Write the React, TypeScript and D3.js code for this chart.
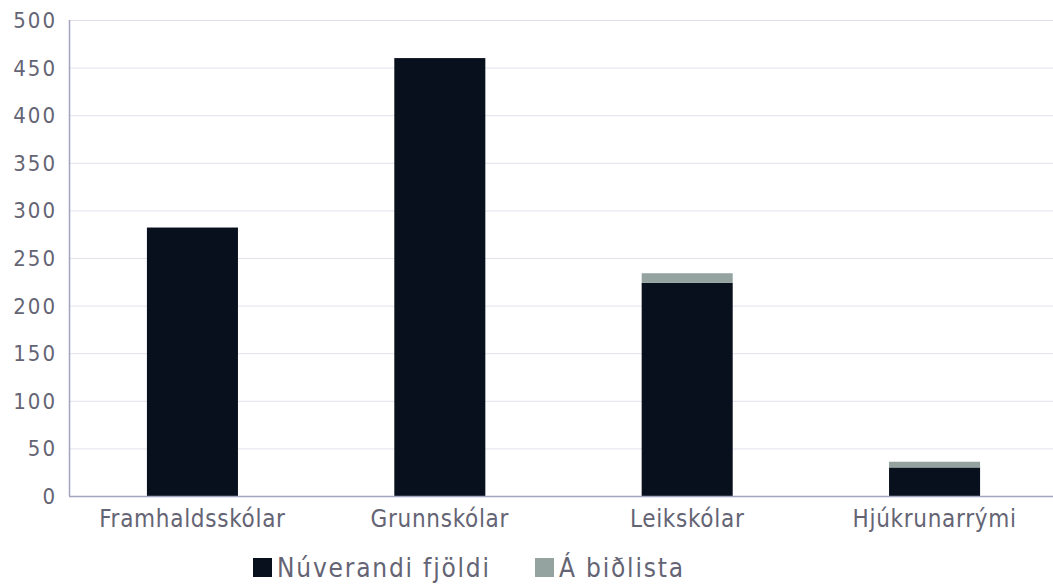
import React from 'react';
import * as d3 from 'd3';

// data
const categories = ['Framhaldsskólar', 'Grunnskólar', 'Leikskólar', 'Hjúkrunarrými'];
const current = [282, 460, 224, 30];
const waiting = [0, 0, 10, 6];
const seriesNames = ['Núverandi fjöldi', 'Á biðlista'];
const yTicks = [0, 50, 100, 150, 200, 250, 300, 350, 400, 450, 500];

const colors = ['#09101d', '#94a39f'];

export default function App() {
  const width = 1053;
  const height = 587;
  const margin = {top: 20, right: 0, bottom: 91, left: 69};
  const innerW = width - margin.left - margin.right;
  const innerH = height - margin.top - margin.bottom;

  const x = d3.scaleBand<string>()
    .domain(categories)
    .range([0, 989])
    .paddingInner(0.632)
    .paddingOuter(0.315);

  const y = d3.scaleLinear().domain([0, 500]).range([innerH, 0]);

  const rows = categories.map((c, i) => ({cat: c, current: current[i], waiting: waiting[i]}));
  const stacked = d3.stack<any>().keys(['current', 'waiting'])(rows);

  const font = '"DejaVu Sans Condensed", "DejaVu Sans", sans-serif';
  const textColor = '#646474';

  return (
    <svg width={width} height={height} style={{position: 'absolute', left: 0, top: 0}}>
      <g transform={`translate(${margin.left},${margin.top})`}>
        {yTicks.map(t => (
          <g key={t}>
            {t > 0 && <line x1={0} x2={innerW} y1={y(t) + 0.5} y2={y(t) + 0.5} stroke="#e1e1ee" />}
            <text x={-12} y={y(t)} dy="0.36em" textAnchor="end" fontFamily={font} fontStretch="condensed"
              fontSize={22} fill={textColor} letterSpacing={2}>{t}</text>
          </g>
        ))}
        {stacked.map((s, si) => (
          <g key={si} fill={colors[si]}>
            {s.map((d, i) => (
              d[1] - d[0] > 0 ?
                <rect key={i} x={x(categories[i])} width={x.bandwidth()}
                  y={y(d[1])} height={y(d[0]) - y(d[1])} /> : null
            ))}
          </g>
        ))}
        <line x1={0.5} x2={0.5} y1={0} y2={innerH} stroke="#a3a3c2" strokeWidth={1.5} />
        <line x1={0} x2={innerW} y1={innerH + 0.5} y2={innerH + 0.5} stroke="#a3a3c2" strokeWidth={1.5} />
        {categories.map(c => (
          <text key={c} x={(x(c) || 0) + x.bandwidth() / 2} y={innerH + 31} textAnchor="middle"
            fontFamily={font} fontStretch="condensed" fontSize={24} fill={textColor} letterSpacing={0.7}>{c}</text>
        ))}
      </g>
      <g transform="translate(253,558)">
        {seriesNames.map((n, i) => (
          <g key={n} transform={`translate(${i * 282},0)`}>
            <rect x={0} y={0} width={19} height={19} fill={colors[i]} />
            <text x={24} y={19} fontFamily={font} fontStretch="condensed" fontSize={26} fill={textColor} letterSpacing={1.8}>{n}</text>
          </g>
        ))}
      </g>
    </svg>
  );
}
